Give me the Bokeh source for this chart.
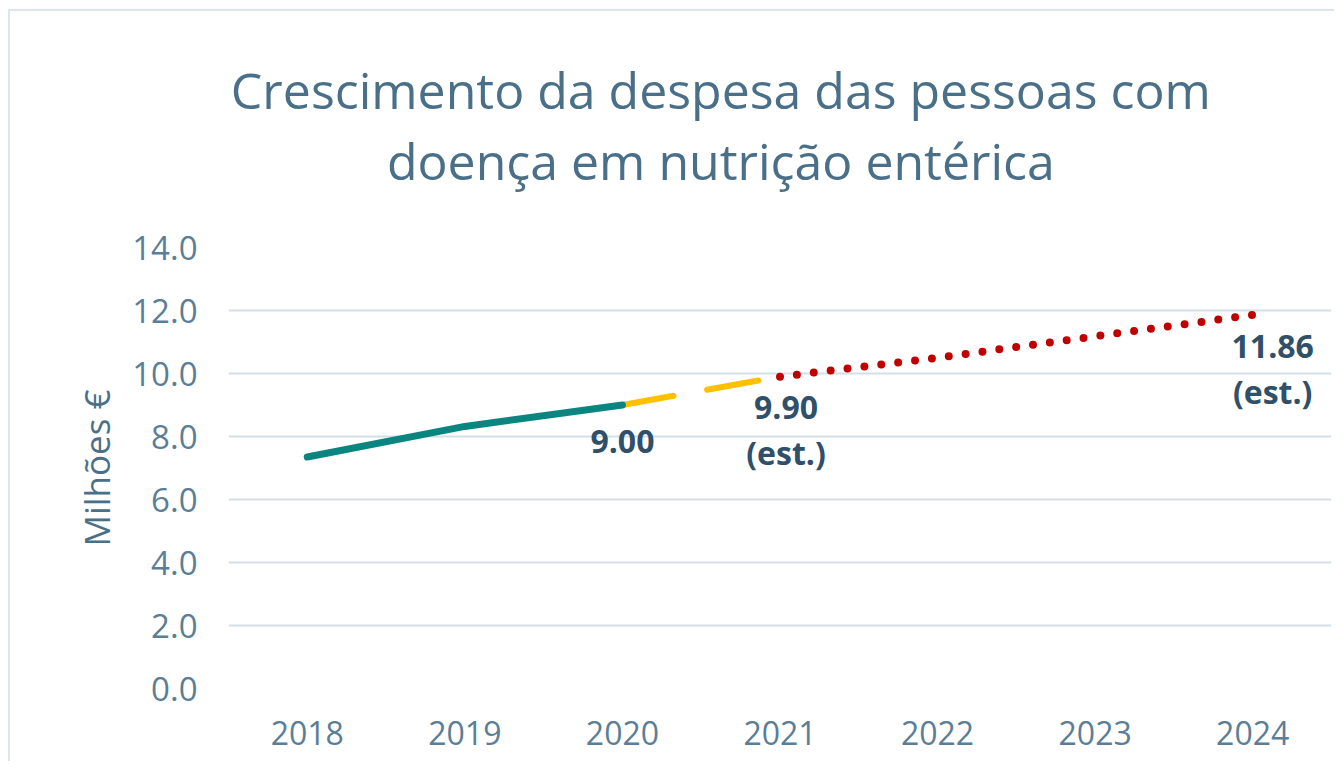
from bokeh.plotting import figure
from bokeh.layouts import column
from bokeh.models import Range1d, FixedTicker, ColumnDataSource, NumeralTickFormatter
from bokeh.core.properties import value
from bokeh.embed import file_html
from bokeh.resources import INLINE

# ---- data ----
title_lines = ["Crescimento da despesa das pessoas com", "doença em nutrição entérica"]
years = ["2018", "2019", "2020", "2021", "2022", "2023", "2024"]
actual_idx = [0, 1, 2]
actual_vals = [7.35, 8.32, 9.00]
bridge_idx = [2, 3]
bridge_vals = [9.00, 9.90]
forecast_idx = [3, 4, 5, 6]
forecast_vals = [9.90, 10.50, 11.18, 11.86]
label_idx = [2, 3, 6]
label_vals = [9.00, 9.90, 11.86]
label_texts = ["9.00", "9.90\n(est.)", "11.86\n(est.)"]
y_ticks = [0, 2, 4, 6, 8, 10, 12, 14]

FONT = "Open Sans"
TITLE_C = "#4a7089"
TICK_C = "#5a7e97"
LABEL_C = "#2f5068"
GRID_C = "#d3dfe8"
W = 1324
TH = 206

# ---- title panel ----
tp = figure(width=W, height=TH, output_backend="svg", toolbar_location=None,
            x_range=Range1d(0, W), y_range=Range1d(0, TH),
            min_border=0, min_border_left=0, min_border_right=0,
            min_border_top=0, min_border_bottom=0)
tp.axis.visible = False
tp.grid.visible = False
tp.outline_line_color = None
tp.border_fill_color = "white"
tp.text(x=[591, 591], y=[TH - 78, TH - 149], text=title_lines,
        text_font=value(FONT), text_font_size="50px", text_color=TITLE_C,
        text_align="center", text_baseline="alphabetic")

# ---- main chart ----
p = figure(width=W, height=750 - TH, output_backend="svg", toolbar_location=None,
           x_range=Range1d(-0.5, 6.5), y_range=Range1d(0, 14),
           min_border_left=218, min_border_right=3, min_border_top=236 - TH,
           min_border_bottom=73)
p.outline_line_color = None
p.background_fill_color = "white"
p.border_fill_color = "white"

p.xaxis.ticker = FixedTicker(ticks=list(range(len(years))))
p.xaxis.major_label_overrides = {i: y for i, y in enumerate(years)}
p.xaxis.axis_line_color = None
p.xaxis.major_tick_line_color = None
p.xaxis.minor_tick_line_color = None
p.xaxis.major_label_text_font = FONT
p.xaxis.major_label_text_font_size = "32px"
p.xaxis.major_label_text_color = TICK_C
p.xaxis.major_label_standoff = 26

p.yaxis.ticker = FixedTicker(ticks=y_ticks)
p.yaxis.formatter = NumeralTickFormatter(format="0.0")
p.yaxis.axis_line_color = None
p.yaxis.major_tick_line_color = None
p.yaxis.minor_tick_line_color = None
p.yaxis.major_label_text_font = FONT
p.yaxis.major_label_text_font_size = "33px"
p.yaxis.major_label_text_color = TICK_C
p.yaxis.major_label_standoff = 25
p.yaxis.axis_label = "Milhões €"
p.yaxis.axis_label_text_font = FONT
p.yaxis.axis_label_text_font_size = "35px"
p.yaxis.axis_label_text_font_style = "normal"
p.yaxis.axis_label_text_color = TITLE_C
p.yaxis.axis_label_standoff = 9

p.xgrid.grid_line_color = None
p.ygrid.grid_line_color = GRID_C
p.ygrid.grid_line_width = 2

p.line(forecast_idx, forecast_vals, line_color="#c00000", line_width=8,
       line_dash="0 17", line_cap="round")
p.line(bridge_idx, bridge_vals, line_color="#ffc000", line_width=6,
       line_dash="52 34", line_cap="round")
p.line(actual_idx, actual_vals, line_color="#0b857f", line_width=7, line_cap="round")

src = ColumnDataSource(dict(x=label_idx, y=label_vals, t=label_texts,
                            dx=[0, 6, 20], dy=[25, 8, 9]))
p.text(x="x", y="y", text="t", x_offset="dx", y_offset="dy", source=src,
       text_font=value(FONT), text_font_size="32px", text_font_style="bold",
       text_color=LABEL_C, text_align="center", text_baseline="top",
       text_line_height=1.08)

layout = column(tp, p, spacing=0)
layout.styles = {"border-top": "2px solid #dbe5ec", "border-left": "2px solid #dbe5ec",
                 "margin-left": "8px", "margin-top": "9px"}

open("out.html", "w").write(file_html(layout, INLINE))
